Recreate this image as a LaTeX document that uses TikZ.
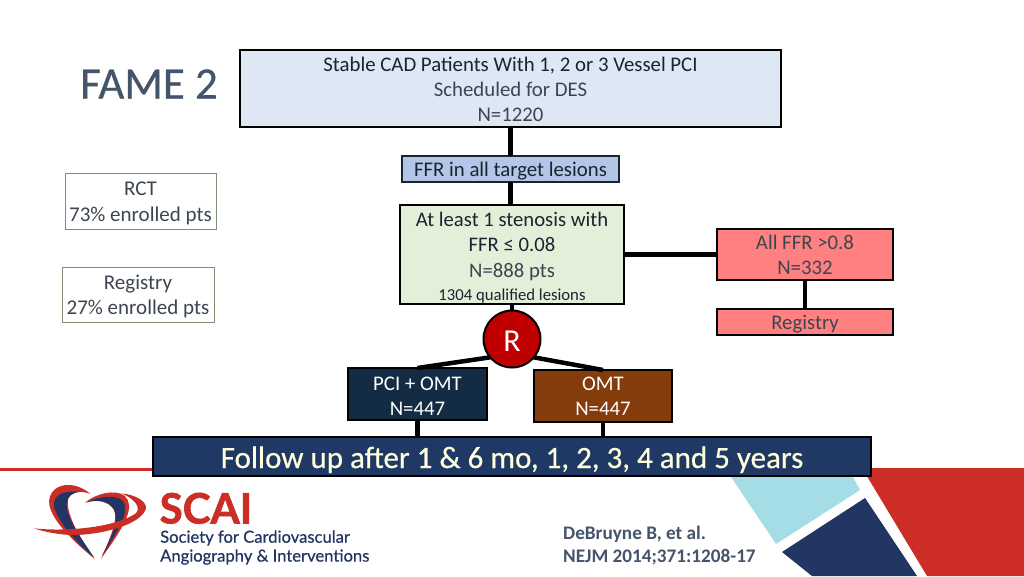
\documentclass[tikz,border=0pt]{standalone}
\usepackage{fontspec}
\setmainfont{Carlito}
\newfontfamily\cheavy[FakeBold=0.5]{Carlito}
\newfontfamily\lato[FakeBold=0.6]{Lato}
\newfontfamily\latoh[FakeBold=1.5]{Lato}[UprightFont=*-Bold]
\newcommand{\up}[1]{\rule{0pt}{#1pt}}
\definecolor{ink}{HTML}{1A2430}
\definecolor{soft}{HTML}{3D4650}
\definecolor{scaired}{HTML}{CC2D26}
\definecolor{scainavy}{HTML}{233563}
\definecolor{skyb}{HTML}{A5DDE6}
\definecolor{slate}{HTML}{44546A}
\definecolor{fmain}{RGB}{222,232,244}
\definecolor{fffr}{RGB}{180,198,231}
\definecolor{fsten}{RGB}{226,239,217}
\definecolor{fred}{RGB}{255,128,128}
\definecolor{fpci}{RGB}{19,44,68}
\definecolor{fomt}{RGB}{132,60,12}
\definecolor{ffu}{RGB}{31,56,100}
\definecolor{fr}{RGB}{192,0,0}
\definecolor{fucream}{RGB}{255,255,220}
\definecolor{sideline}{HTML}{7F8F78}
\tikzset{
  box/.style={draw=black,line width=2pt,outer sep=0pt,inner sep=0pt,align=center,anchor=north west,text=ink},
  side box/.style={draw=sideline,line width=1pt,outer sep=0pt,inner sep=0pt,align=center,anchor=north west,text=soft,font=\fontsize{21}{25.5}\selectfont},
  link/.style={line width=4.5pt,black},
  fs/.style={font=\fontsize{#1}{#1}\selectfont},
}
\begin{document}
\begin{tikzpicture}[x=1pt,y=-1pt]
\useasboundingbox (0,0) rectangle (1024,576);
\fill[white] (0,0) rectangle (1024,576);
% decoration
\fill[scaired] (0,468) rectangle (300,471);
\fill[scaired] (862,468) -- (1024,468) -- (1024,576) -- (927,576) -- cycle;
\fill[skyb] (725,468) -- (776,544) -- (860,490) -- (848,468) -- cycle;
\fill[scainavy] (782,552) -- (865,498) -- (917,576) -- (812,576) -- cycle;
% logo
\begin{scope}[shift={(30,480)},x=0.3333pt,y=-0.3333pt]
\fill[scaired] (195,238) .. controls (120,175) and (70,125) .. (58,75)
  .. controls (52,35) and (85,12) .. (120,15)
  .. controls (145,17) and (165,28) .. (182,42)
  .. controls (150,30) and (125,35) .. (115,55)
  .. controls (105,90) and (140,165) .. cycle;
\fill[scainavy] (192,232) .. controls (130,180) and (85,125) .. (72,80)
  .. controls (68,45) and (100,30) .. (150,36)
  .. controls (125,38) and (112,50) .. (110,70)
  .. controls (108,110) and (150,170) .. cycle;
\fill[scaired] (165,68) .. controls (195,42) and (255,25) .. (285,48)
  .. controls (315,80) and (290,130) .. (213,236)
  .. controls (240,175) and (265,120) .. (252,90)
  .. controls (235,62) and (200,58) .. cycle;
\fill[scainavy] (172,66) .. controls (205,50) and (255,42) .. (278,62)
  .. controls (300,90) and (275,135) .. (216,228)
  .. controls (245,170) and (268,120) .. (252,88)
  .. controls (235,62) and (205,58) .. cycle;
\fill[scaired] (12,145) .. controls (100,155) and (250,145) .. (318,100)
  .. controls (335,80) and (310,55) .. (275,40)
  .. controls (320,45) and (350,65) .. (348,85)
  .. controls (335,135) and (210,165) .. (130,165)
  .. controls (90,165) and (40,155) .. cycle;
\end{scope}
\node[anchor=west,inner sep=0pt,text=scaired,fs=42,text height=29pt,text depth=0pt] (scai) at (159.5,509) {\latoh SCAI};
\node[anchor=west,inner sep=0pt,text=scainavy,fs=16.6] (soc) at (160,538) {\lato Society for Cardiovascular};
\node[anchor=west,inner sep=0pt,text=scainavy,fs=16.6] (ang) at (160,557) {\lato Angiography \& Interventions};
\node[anchor=west,inner sep=0pt,text=slate,fs=19.2] (ref1) at (563,534) {\bfseries DeBruyne B, et al.};
\node[anchor=west,inner sep=0pt,text=slate,fs=19.2] (ref2) at (563,557) {\bfseries NEJM 2014;371:1208-17};
% title
\node[anchor=west,inner sep=0pt,text=slate,fs=45] (title) at (80,84) {\cheavy FAME 2};
% side boxes
\node[side box,minimum width=151pt,minimum height=56pt] (rct) at (65,173) {\up{18}RCT\\73\% enrolled pts};
\node[side box,minimum width=152pt,minimum height=55pt] (reg) at (62,267) {\up{18}Registry\\27\% enrolled pts};
% flow boxes
\node[box,fill=fmain,minimum width=541pt,minimum height=77pt,font=\fontsize{20.8}{25}\selectfont] (main) at (240,50)
  {\up{17}Stable CAD Patients With 1, 2 or 3 Vessel PCI\\
   \textcolor{soft}{Scheduled for DES}\\\textcolor{soft}{N=1220}};
\node[box,draw=ink,fill=fffr,minimum width=217pt,minimum height=26pt,fs=20.8] (ffr) at (402,156) {\up{19}FFR in all target lesions};
\node[box,fill=fsten,minimum width=224pt,minimum height=99pt,font=\fontsize{20.7}{25.5}\selectfont] (sten) at (400,205)
  {\up{21}At least 1 stenosis with\\FFR ≤ 0.08\\\textcolor{soft}{N=888 pts}\\[-2pt]{\fontsize{16.7}{20}\selectfont 1304 qualified lesions}};
\node[box,fill=fred,minimum width=176pt,minimum height=51pt,text=soft,font=\fontsize{20.8}{25}\selectfont] (allffr) at (717,229)
  {All FFR >0.8\\N=332};
\node[box,fill=fred,minimum width=176pt,minimum height=26pt,text=soft,fs=20.8] (regbox) at (717,309) {\up{19}Registry};
\node[box,fill=fpci,text=white,minimum width=139pt,minimum height=52pt,font=\fontsize{20.8}{25}\selectfont] (pci) at (348,368)
  {\up{17}PCI + OMT\\N=447};
\node[box,fill=fomt,text=white,minimum width=138pt,minimum height=52pt,font=\fontsize{20.8}{25}\selectfont] (omt) at (534,370)
  {OMT\\N=447};
\node[box,fill=ffu,text=fucream,minimum width=718pt,minimum height=39pt,fs=31] (fu) at (153,437)
  {\cheavy\up{28}Follow up after 1 \& 6 mo, 1, 2, 3, 4 and 5 years};
\node[circle,draw=black,line width=2pt,outer sep=0pt,fill=fr,text=white,minimum size=57pt,inner sep=0pt,fs=32] (R) at (512,339) {\up{25}R};
% connectors
\draw[link] (main.south) -- (ffr.north);
\draw[link] (ffr.south) -- (ffr.south |- sten.north);
\draw[link] (R.north |- sten.south) -- (R.north);
\draw[link] (sten.east) -- (allffr.west);
\draw[link] (allffr.south) -- (regbox.north);
\draw[link] (R.220) -- (pci.north);
\draw[link] (R.320) -- (omt.north);
\draw[link] (pci.south) -- (pci.south |- fu.north);
\draw[link] (omt.south) -- (omt.south |- fu.north);
\end{tikzpicture}
\end{document}
